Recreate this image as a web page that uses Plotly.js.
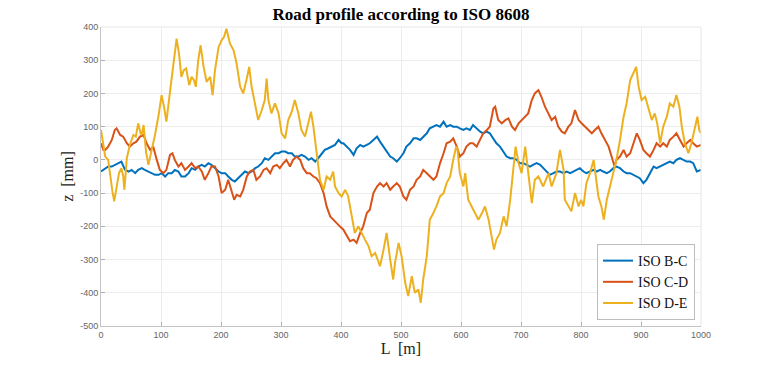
<!DOCTYPE html>
<html>
<head>
<meta charset="utf-8">
<script src="https://cdn.plot.ly/plotly-3.0.1.min.js"></script>
<style>html,body{margin:0;padding:0;background:#fff;}#plot{width:775px;height:366px;}</style>
</head>
<body>
<div id="plot"></div>
<script>
// Road profile according to ISO 8608
const seriesNames = ["ISO B-C", "ISO C-D", "ISO D-E"];

const L_BC = [0,7,12,18,23,29,34,40,46,51,57,62,68,73,79,84,90,96,101,107,112,118,123,129,134,140,146,151,157,162,168,173,179,184,190,196,201,207,212,218,223,229,234,240,246,251,257,262,268,273,279,284,290,296,301,307,312,318,323,329,334,340,346,351,357,362,368,373,379,384,390,396,401,404,410,415,421,426,432,437,443,448,454,460,465,471,476,482,487,493,498,504,509,515,521,526,532,537,543,548,554,559,565,571,576,582,587,593,598,604,609,615,620,626,632,637,643,648,654,659,665,671,676,682,687,693,698,704,709,715,720,726,732,737,743,748,754,759,765,771,776,782,787,793,798,804,809,815,821,826,832,837,843,848,854,859,865,871,876,882,887,893,898,904,909,915,921,926,932,937,943,948,954,959,965,971,976,982,987,993,1000];
const Z_BC = [-35,-25,-20,-20,-15,-10,-5,-30,-35,-30,-40,-30,-25,-30,-35,-40,-45,-45,-40,-50,-40,-40,-30,-35,-50,-50,-40,-25,-30,-20,-15,-20,-10,-15,-25,-35,-40,-40,-50,-60,-65,-55,-45,-35,-40,-35,-25,-20,-10,5,0,10,20,20,25,25,20,20,10,10,15,10,0,5,-5,5,20,30,35,40,45,60,50,50,40,30,15,35,45,40,45,50,60,70,55,40,25,10,5,-5,5,20,40,50,65,65,60,70,80,95,100,105,100,115,100,105,100,100,95,90,95,90,105,95,85,80,85,80,65,50,40,25,10,5,5,0,-10,-10,-15,-20,-15,-10,-15,-25,-35,-45,-40,-35,-35,-40,-35,-40,-35,-30,-25,-35,-40,-35,-30,-35,-30,-35,-40,-35,-25,-20,-25,-35,-40,-40,-45,-50,-55,-70,-60,-40,-20,-25,-20,-15,-10,-5,-10,0,5,0,-5,-5,-10,-35,-30];

const L_CD = [0,4,7,12,18,23,26,32,37,43,48,54,59,65,71,76,82,87,93,98,104,109,115,119,123,129,134,140,146,151,157,162,168,173,179,184,190,196,201,207,212,218,222,226,232,237,243,248,254,259,265,271,276,282,287,293,298,304,309,315,320,326,332,337,343,348,354,359,365,371,376,382,387,393,398,404,410,415,421,426,432,437,443,448,454,460,465,471,476,482,487,493,498,504,509,515,521,526,532,537,543,548,554,559,565,571,576,582,587,593,598,604,609,615,620,626,632,637,643,648,654,657,662,668,674,679,685,690,696,701,707,712,718,723,729,734,740,746,751,757,762,768,773,779,784,790,796,801,807,812,818,823,829,834,840,846,851,856,859,865,871,876,882,887,893,898,904,909,915,921,926,932,937,943,948,954,959,965,971,976,982,987,993,1000];
const Z_CD = [50,30,30,40,60,90,95,75,70,50,40,50,55,70,75,50,30,40,0,-30,-40,-30,15,20,0,-20,-10,-30,-20,-10,-25,-20,-35,-60,-40,-20,-20,-50,-100,-90,-60,-100,-120,-105,-110,-90,-50,-35,-30,-60,-50,-30,-25,-40,-20,-15,-25,-10,0,-20,0,10,0,-25,-40,-40,-50,-55,-70,-100,-140,-170,-180,-190,-200,-210,-230,-245,-240,-250,-220,-200,-160,-150,-100,-80,-70,-80,-70,-90,-80,-70,-80,-110,-120,-90,-80,-60,-50,-30,-40,-50,-60,-50,-10,20,50,55,65,40,10,20,40,50,50,40,60,80,90,100,155,160,120,110,120,125,100,90,110,120,130,140,180,200,210,190,160,140,120,130,100,85,80,100,110,150,120,110,100,90,80,90,100,80,60,40,10,-20,0,10,30,10,20,50,80,60,30,20,10,30,50,40,50,40,60,70,80,60,40,50,60,50,40,45];

const L_DE = [0,4,7,12,16,19,22,26,30,34,37,39,43,48,54,58,62,66,68,71,75,79,84,90,96,101,105,109,115,121,126,130,134,138,142,147,151,155,158,162,166,171,176,182,186,190,196,201,205,209,215,221,226,232,237,243,247,251,257,262,268,273,276,279,284,290,296,301,307,312,318,323,329,334,340,346,350,354,359,365,371,376,382,387,390,396,401,407,412,418,423,429,434,440,446,451,457,465,471,476,482,487,490,496,501,507,512,518,523,529,533,537,543,548,554,559,565,571,576,582,587,592,594,598,604,607,612,618,624,629,635,640,646,651,655,659,665,671,676,682,687,691,696,701,707,712,718,723,729,737,746,751,759,765,771,773,779,784,790,796,800,804,809,815,821,825,829,834,838,843,848,854,859,865,871,876,882,887,892,896,901,907,912,918,923,927,932,937,943,948,954,959,964,968,973,979,984,990,994,997,1000];
const Z_DE = [90,40,10,0,-60,-95,-125,-75,-40,-25,-50,-90,5,45,75,70,110,80,75,105,25,-15,25,75,135,195,160,115,205,295,365,320,250,270,275,225,250,240,220,300,345,280,235,250,195,270,340,360,370,395,350,330,290,220,200,245,280,220,170,120,150,180,245,180,140,170,140,80,65,120,145,180,140,90,70,110,145,100,20,-60,-90,-50,-60,-35,-80,-100,-110,-90,-110,-170,-220,-200,-220,-240,-260,-290,-280,-320,-270,-220,-300,-360,-310,-250,-290,-370,-410,-350,-400,-390,-430,-360,-290,-180,-160,-140,-110,-100,-70,-50,0,40,35,-40,-80,-40,-120,-140,-160,-180,-160,-140,-180,-230,-270,-240,-220,-170,-200,-120,-40,40,-10,-40,40,-30,-130,-60,-50,-80,-40,-80,-40,30,-30,-120,-140,-155,-100,-140,-120,-140,-70,-40,0,-50,-110,-140,-180,-120,-80,-30,0,60,130,170,240,260,280,220,180,190,160,120,140,110,50,100,130,170,160,195,160,100,50,20,50,100,130,90,80];

const xTicks = [0,100,200,300,400,500,600,700,800,900,1000];
const yTicks = [-500,-400,-300,-200,-100,0,100,200,300,400];

const colors = ["#0072BD", "#D95319", "#EDB120"];
const xs = [L_BC, L_CD, L_DE];
const zs = [Z_BC, Z_CD, Z_DE];

const traces = seriesNames.map((n, i) => ({
  x: xs[i], y: zs[i], name: n, type: "scatter", mode: "lines",
  line: {color: colors[i], width: 2}
}));

const serif = "Liberation Serif, DejaVu Serif, serif";
const layout = {
  width: 775, height: 366,
  margin: {l: 101, r: 74, t: 27, b: 40},
  paper_bgcolor: "#ffffff", plot_bgcolor: "#ffffff",
  title: {text: "<b>Road profile according to ISO 8608</b>", font: {family: serif, size: 17, color: "#000"},
          x: 0.5, xref: "paper", y: 0.962, yref: "container", yanchor: "middle"},
  xaxis: {range: [0, 1000], tickvals: xTicks, ticktext: xTicks.map(String),
          showgrid: true, gridcolor: "#ececec", zeroline: false,
          showline: true, linecolor: "#c4c4c4", linewidth: 1, mirror: false,
          ticks: "inside", ticklen: 4, tickcolor: "#b0b0b0",
          tickfont: {family: "Liberation Sans, Arial, sans-serif", size: 9, color: "#666"},
          title: {text: "L  [m]", font: {family: serif, size: 16, color: "#222"}, standoff: 3}},
  yaxis: {range: [-500, 400], tickvals: yTicks, ticktext: yTicks.map(String),
          showgrid: true, gridcolor: "#ececec", zeroline: false,
          showline: true, linecolor: "#c4c4c4", linewidth: 1, mirror: false,
          ticks: "inside", ticklen: 4, tickcolor: "#b0b0b0",
          tickfont: {family: "Liberation Sans, Arial, sans-serif", size: 9, color: "#666"},
          title: {text: "z  [mm]", font: {family: serif, size: 16, color: "#222"}, standoff: 2}},
  showlegend: true,
  legend: {x: 0.99, y: 0.02, xanchor: "right", yanchor: "bottom",
           bgcolor: "#ffffff", bordercolor: "#bdbdbd", borderwidth: 1,
           font: {family: serif, size: 14, color: "#111"},
           itemwidth: 30, tracegroupgap: 0},
  shapes: [
    {type: "line", xref: "paper", yref: "paper", x0: 0, x1: 1, y0: 1, y1: 1, line: {color: "#e6e6e6", width: 1}},
    {type: "line", xref: "paper", yref: "paper", x0: 1, x1: 1, y0: 0, y1: 1, line: {color: "#e6e6e6", width: 1}}
  ]
};

Plotly.newPlot("plot", traces, layout, {displayModeBar: false, staticPlot: true});
</script>
</body>
</html>
